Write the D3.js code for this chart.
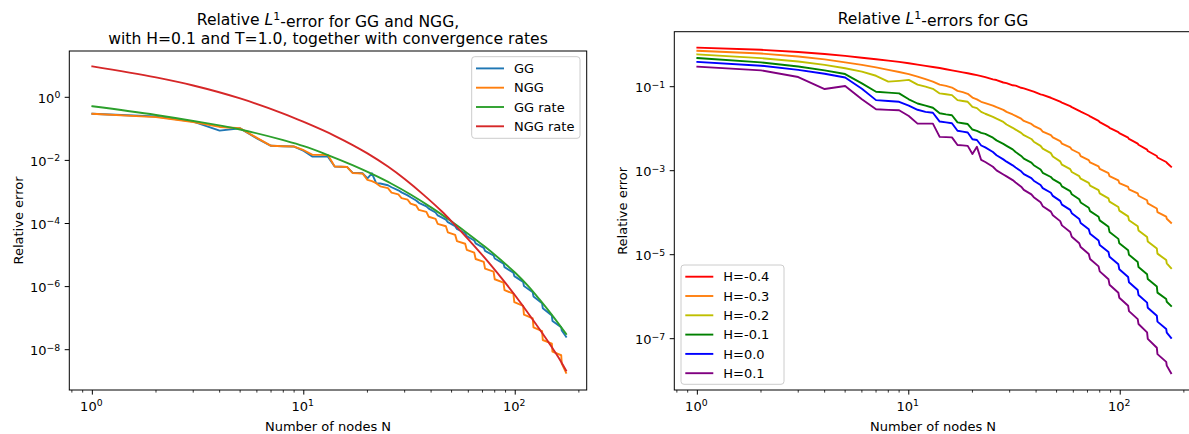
<!DOCTYPE html>
<html>
<head>
<meta charset="utf-8">
<script src="https://cdn.jsdelivr.net/npm/d3@7"></script>
<style>
  body { margin: 0; background: #fff; }
  svg text { font-family: "DejaVu Sans", sans-serif; fill: #000; }
</style>
</head>
<body>
<svg id="chart" width="1189" height="434"></svg>
<script>
// node grid: every N up to 22, then blocks of N (error slides down inside a block, drops between blocks)
const earlyN = [1, 2, 3, 4, 5, 6, 7, 8, 9, 10, 11, 12, 13, 14, 15, 16, 17, 18, 19, 20, 21, 22];
const blockStartN = [23, 26, 29, 32, 35, 39, 43, 48, 53, 59, 65, 72, 80, 89, 99, 110, 122, 135, 150, 166];
const blockEndN = [25, 28, 31, 34, 38, 42, 47, 52, 58, 64, 71, 79, 88, 98, 109, 121, 134, 149, 165, 174];

// ---- left panel: H=0.1, T=1.0 ----
const leftLabels = ["GG", "NGG", "GG rate", "NGG rate"];
const ggEarly = [0.30, 0.245, 0.17, 0.088, 0.104, 0.050, 0.029, 0.028, 0.0275, 0.020, 0.0132, 0.0132, 0.0132, 0.0064, 0.0063, 0.0062,
  0.0041, 0.0040, 0.0039, 0.0027, 0.0039, 0.0019];
const ggStart = [1.85e-3, 1.41e-3, 9.72e-4, 6.78e-4, 4.53e-4, 2.96e-4, 1.80e-4, 1.11e-4, 6.73e-5, 3.97e-5, 2.35e-5, 1.36e-5,
  7.76e-6, 4.13e-6, 2.15e-6, 1.04e-6, 4.88e-7, 2.07e-7, 8.17e-8, 4.05e-8];
const ggEnd = [1.63e-3, 1.13e-3, 7.80e-4, 5.36e-4, 3.50e-4, 2.23e-4, 1.33e-4, 8.22e-5, 4.92e-5, 2.89e-5, 1.69e-5, 9.68e-6,
  5.37e-6, 2.78e-6, 1.41e-6, 6.62e-7, 2.96e-7, 1.21e-7, 5.11e-8, 2.57e-8];
const nggEarly = [0.30, 0.235, 0.165, 0.115, 0.104, 0.052, 0.029, 0.028, 0.0275, 0.021, 0.0150, 0.0150, 0.0148, 0.0064, 0.0063, 0.0062,
  0.0040, 0.0039, 0.0038, 0.0024, 0.0022, 0.0019];
const nggStart = [1.51e-3, 9.51e-4, 6.40e-4, 4.26e-4, 2.70e-4, 1.64e-4, 9.72e-5, 5.26e-5, 2.77e-5, 1.46e-5, 7.50e-6, 3.71e-6,
  1.71e-6, 7.67e-7, 3.23e-7, 1.29e-7, 5.13e-8, 2.03e-8, 8.63e-9, 3.61e-9];
const nggEnd = [1.32e-3, 8.36e-4, 5.68e-4, 3.72e-4, 2.33e-4, 1.40e-4, 8.17e-5, 4.36e-5, 2.28e-5, 1.19e-5, 6.10e-6, 2.96e-6,
  1.34e-6, 5.96e-7, 2.46e-7, 9.77e-8, 3.89e-8, 1.56e-8, 6.67e-9, 1.86e-9];
const ggRateN = [1, 2, 3, 5, 8, 10, 13, 17, 21, 26, 32, 40, 50, 60, 72, 85, 100, 115, 130, 150, 174];
const ggRate = [0.519, 0.275, 0.178, 0.0955, 0.0437, 0.0282, 0.0148, 7.08e-3, 3.72e-3, 1.82e-3, 8.32e-4, 3.24e-4, 1.15e-4,
  4.68e-5, 1.82e-5, 7.24e-6, 2.75e-6, 1.05e-6, 3.98e-7, 1.20e-7, 3.16e-8];
const nggRateN = [1, 2, 3, 5, 8, 10, 14, 20, 25, 30, 37, 45, 50, 60, 75, 90, 106, 125, 145, 160, 174];
const nggRate = [9.55, 4.27, 2.37, 0.92, 0.305, 0.165, 0.0603, 0.0167, 6.38e-3, 2.57e-3, 7.94e-4, 2.40e-4, 1.17e-4,
  3.16e-5, 5.75e-6, 1.29e-6, 3.09e-7, 6.61e-8, 1.58e-8, 5.75e-9, 2.19e-9];

// ---- right panel: GG for several H ----
const hLabels = ["H=-0.4", "H=-0.3", "H=-0.2", "H=-0.1", "H=0.0", "H=0.1"];
const hm04Early = [0.851, 0.757, 0.670, 0.603, 0.541, 0.490, 0.452, 0.418, 0.389, 0.361, 0.335, 0.313, 0.295, 0.278, 0.260, 0.245,
  0.232, 0.220, 0.209, 0.198, 0.188, 0.179];
const hm04Start = [0.169, 0.144, 0.122, 0.106, 0.0912, 0.0762, 0.0637, 0.0522, 0.0419, 0.0327, 0.0255, 0.0196, 0.0143, 0.0105,
  7.83e-3, 5.70e-3, 4.15e-3, 2.95e-3, 2.06e-3, 1.54e-3];
const hm04End = [0.149, 0.126, 0.108, 0.0942, 0.0794, 0.0658, 0.0545, 0.0439, 0.0345, 0.0267, 0.0206, 0.0154, 0.0111, 8.28e-3,
  6.11e-3, 4.41e-3, 3.18e-3, 2.24e-3, 1.61e-3, 1.24e-3];
const hm03Early = [0.719, 0.617, 0.525, 0.447, 0.380, 0.331, 0.288, 0.251, 0.224, 0.200, 0.174, 0.151, 0.132, 0.112, 0.105, 0.0955,
  0.0794, 0.0741, 0.0676, 0.0550, 0.0501, 0.0437];
const hm03Start = [0.0407, 0.0325, 0.0252, 0.0201, 0.0153, 0.0117, 8.55e-3, 6.22e-3, 4.41e-3, 3.20e-3, 2.22e-3, 1.57e-3, 1.10e-3,
  7.41e-4, 5.09e-4, 3.61e-4, 2.53e-4, 1.66e-4, 1.03e-4, 7.16e-5];
const hm03End = [0.0355, 0.0281, 0.0218, 0.0173, 0.0130, 9.79e-3, 7.05e-3, 5.08e-3, 3.60e-3, 2.60e-3, 1.79e-3, 1.27e-3, 8.71e-4,
  5.89e-4, 4.10e-4, 2.90e-4, 1.98e-4, 1.26e-4, 8.07e-5, 5.75e-5];
const hm02Early = [0.589, 0.479, 0.398, 0.331, 0.275, 0.229, 0.182, 0.132, 0.138, 0.145, 0.112, 0.100, 0.0891, 0.0692, 0.0661, 0.0631,
  0.0479, 0.0457, 0.0437, 0.0331, 0.0309, 0.0251];
const hm02Start = [0.0227, 0.0173, 0.0126, 9.53e-3, 7.00e-3, 4.90e-3, 3.34e-3, 2.17e-3, 1.39e-3, 9.33e-4, 6.46e-4, 4.41e-4, 2.88e-4,
  1.83e-4, 1.12e-4, 6.64e-5, 3.78e-5, 2.06e-5, 1.06e-5, 6.25e-6];
const hm02End = [0.0192, 0.0145, 0.0105, 7.96e-3, 5.69e-3, 3.89e-3, 2.61e-3, 1.67e-3, 1.09e-3, 7.41e-4, 5.13e-4, 3.44e-4, 2.19e-4,
  1.37e-4, 8.17e-5, 4.76e-5, 2.64e-5, 1.40e-5, 7.50e-6, 4.79e-6];
const hm01Early = [0.482, 0.380, 0.302, 0.245, 0.200, 0.120, 0.0759, 0.0724, 0.0692, 0.0501, 0.0398, 0.0355, 0.0316, 0.0234, 0.0219,
  0.0209, 0.0141, 0.0135, 0.0129, 9.55e-3, 8.91e-3, 7.94e-3];
const hm01Start = [7.50e-3, 5.27e-3, 3.91e-3, 2.80e-3, 1.94e-3, 1.35e-3, 8.91e-4, 6.31e-4, 4.23e-4, 2.75e-4, 1.75e-4, 1.09e-4, 6.56e-5,
  3.49e-5, 1.87e-5, 9.91e-6, 5.09e-6, 2.63e-6, 1.25e-6, 7.59e-7];
const hm01End = [6.10e-3, 4.35e-3, 3.22e-3, 2.25e-3, 1.56e-3, 1.07e-3, 7.08e-4, 5.01e-4, 3.27e-4, 2.09e-4, 1.31e-4, 8.02e-5, 4.60e-5,
  2.38e-5, 1.28e-5, 6.67e-6, 3.41e-6, 1.74e-6, 8.77e-7, 6.03e-7];
const h00Early = [0.389, 0.316, 0.251, 0.204, 0.166, 0.0891, 0.0479, 0.0457, 0.0437, 0.0355, 0.0282, 0.0251, 0.0240, 0.0148, 0.0141,
  0.0135, 8.91e-3, 8.51e-3, 8.13e-3, 5.62e-3, 5.37e-3, 3.98e-3];
const h00Start = [3.58e-3, 2.34e-3, 1.64e-3, 1.19e-3, 8.28e-4, 5.77e-4, 3.85e-4, 2.51e-4, 1.56e-4, 9.72e-5, 5.69e-5, 3.16e-5, 1.71e-5,
  8.89e-6, 4.49e-6, 2.20e-6, 1.10e-6, 5.43e-7, 2.55e-7, 1.40e-7];
const h00End = [2.79e-3, 1.86e-3, 1.34e-3, 9.66e-4, 6.64e-4, 4.56e-4, 2.98e-4, 1.91e-4, 1.17e-4, 7.11e-5, 4.03e-5, 2.19e-5, 1.16e-5,
  5.90e-6, 2.94e-6, 1.44e-6, 7.21e-7, 3.51e-7, 1.71e-7, 1.05e-7];
const h01Early = [0.30, 0.245, 0.17, 0.088, 0.104, 0.050, 0.029, 0.028, 0.0275, 0.020, 0.0132, 0.0132, 0.0132, 0.0064, 0.0063, 0.0062,
  0.0041, 0.0040, 0.0039, 0.0025, 0.0037, 0.0018];
const h01Start = [1.61e-3, 1.02e-3, 7.31e-4, 5.25e-4, 3.50e-4, 2.34e-4, 1.43e-4, 8.73e-5, 4.99e-5, 2.68e-5, 1.52e-5, 7.93e-6, 4.01e-6,
  1.93e-6, 9.44e-7, 4.52e-7, 2.24e-7, 9.93e-8, 4.29e-8, 2.28e-8];
const h01End = [1.24e-3, 8.13e-4, 5.97e-4, 4.17e-4, 2.73e-4, 1.78e-4, 1.06e-4, 6.30e-5, 3.48e-5, 1.87e-5, 1.04e-5, 5.26e-6, 2.61e-6,
  1.24e-6, 6.10e-7, 2.92e-7, 1.41e-7, 6.07e-8, 2.81e-8, 1.51e-8];

function blocks(early, starts, ends) {
  const pts = earlyN.map((n, i) => [n, early[i]]);
  starts.forEach((v, k) => {
    pts.push([blockStartN[k], v]);
    pts.push([blockEndN[k], ends[k]]);
  });
  return pts;
}

function pairs(ns, vs) {
  return ns.map((n, i) => [n, vs[i]]);
}

const svg = d3.select("#chart");

function sup(textSel, base, exp) {
  textSel.text(base);
  textSel.append("tspan").attr("dy", "-0.5em").attr("font-size", "9.3px").text(exp);
}

function drawPanel(cfg) {
  const g = svg.append("g");
  const x = d3.scaleLog().domain(cfg.xDomain).range([cfg.left, cfg.right]);
  const y = d3.scaleLog().domain(cfg.yDomain).range([cfg.bottom, cfg.top]);

  const clipId = "clip-" + cfg.id;
  g.append("clipPath").attr("id", clipId)
    .append("rect")
      .attr("x", cfg.left).attr("y", cfg.top)
      .attr("width", cfg.right - cfg.left).attr("height", cfg.bottom - cfg.top);

  const plot = g.append("g").attr("clip-path", "url(#" + clipId + ")");
  cfg.series.forEach((s) => {
    const line = d3.line()
      .x((d) => x(d[0]))
      .y((d) => y(d[1]))
      .curve(s.smooth ? d3.curveMonotoneX : d3.curveLinear);
    plot.append("path")
      .attr("d", line(s.pts))
      .attr("fill", "none")
      .attr("stroke", s.color)
      .attr("stroke-width", 1.9)
      .attr("stroke-linejoin", "round")
      .attr("stroke-linecap", "square");
  });

  // x ticks
  const xMinor = [0.8, 0.9, 2, 3, 4, 5, 6, 7, 8, 9, 20, 30, 40, 50, 60, 70, 80, 90, 200];
  g.selectAll(".xminor").data(xMinor).enter().append("line")
    .attr("x1", (d) => x(d)).attr("x2", (d) => x(d))
    .attr("y1", cfg.bottom).attr("y2", cfg.bottom + 2.6)
    .attr("stroke", "#000").attr("stroke-width", 0.8);
  const xMajor = [1, 10, 100];
  g.selectAll(".xmajor").data(xMajor).enter().append("line")
    .attr("x1", (d) => x(d)).attr("x2", (d) => x(d))
    .attr("y1", cfg.bottom).attr("y2", cfg.bottom + 4.6)
    .attr("stroke", "#000").attr("stroke-width", 1);
  g.selectAll(".xlab").data(xMajor).enter().append("text")
    .attr("x", (d) => x(d) - 1).attr("y", cfg.bottom + 21)
    .attr("text-anchor", "middle").attr("font-size", "13px")
    .each(function(d) { sup(d3.select(this), "10", String(Math.round(Math.log10(d)))); });

  // y ticks
  g.selectAll(".ymajor").data(cfg.yTicks).enter().append("line")
    .attr("x1", cfg.left - 4.6).attr("x2", cfg.left)
    .attr("y1", (d) => y(d)).attr("y2", (d) => y(d))
    .attr("stroke", "#000").attr("stroke-width", 1);
  g.selectAll(".ylab").data(cfg.yTicks).enter().append("text")
    .attr("x", cfg.left - 9).attr("y", (d) => y(d) + 5.5)
    .attr("text-anchor", "end").attr("font-size", "13px")
    .each(function(d) {
      const e = Math.round(Math.log10(d));
      sup(d3.select(this), "10", e < 0 ? "\u2212" + (-e) : String(e));
    });

  // frame
  g.append("rect")
    .attr("x", cfg.left).attr("y", cfg.top)
    .attr("width", cfg.right - cfg.left).attr("height", cfg.bottom - cfg.top)
    .attr("fill", "none").attr("stroke", "#000").attr("stroke-width", 1);

  // axis labels
  g.append("text")
    .attr("x", (cfg.left + cfg.right) / 2).attr("y", 431)
    .attr("text-anchor", "middle").attr("font-size", "13px")
    .text("Number of nodes N");
  g.append("text")
    .attr("transform", "translate(" + cfg.yLabelX + "," + (cfg.top + cfg.bottom) / 2 + ") rotate(-90)")
    .attr("text-anchor", "middle").attr("font-size", "13px")
    .text("Relative error");

  // title
  cfg.title.forEach((line) => {
    const t = g.append("text")
      .attr("x", (cfg.left + cfg.right) / 2).attr("y", line.y)
      .attr("text-anchor", "middle").attr("font-size", "15.6px");
    if (line.math) {
      t.append("tspan").text(line.pre);
      t.append("tspan").attr("font-style", "italic").text("L");
      t.append("tspan").attr("dy", "-0.45em").attr("font-size", "11px").text("1");
      t.append("tspan").attr("dy", "0.45em").text(line.post);
    } else {
      t.text(line.text);
    }
  });

  // legend
  const lg = cfg.legend;
  g.append("rect")
    .attr("x", lg.x).attr("y", lg.y).attr("width", lg.w).attr("height", lg.h)
    .attr("rx", 3).attr("fill", "#fff").attr("fill-opacity", 0.8)
    .attr("stroke", "#cccccc").attr("stroke-width", 1);
  cfg.series.forEach((s, i) => {
    const yy = lg.y + 11.7 + i * 19.3;
    g.append("line")
      .attr("x1", lg.x + 4.3).attr("x2", lg.x + 32.3)
      .attr("y1", yy).attr("y2", yy)
      .attr("stroke", s.color).attr("stroke-width", 1.9);
    g.append("text")
      .attr("x", lg.x + 42.3).attr("y", yy + 4.6)
      .attr("font-size", "13px")
      .text(s.label);
  });
}

drawPanel({
  id: "left",
  left: 69.3, right: 586.7, top: 51, bottom: 390,
  xDomain: [0.778, 217.8],
  yDomain: [5.28e-10, 29.35],
  yTicks: [1, 1e-2, 1e-4, 1e-6, 1e-8],
  yLabelX: 23,
  title: [
    { math: true, pre: "Relative ", post: "-error for GG and NGG,", y: 25 },
    { text: "with H=0.1 and T=1.0, together with convergence rates", y: 44 }
  ],
  series: [
    { pts: blocks(ggEarly, ggStart, ggEnd), color: "#1f77b4", label: leftLabels[0] },
    { pts: blocks(nggEarly, nggStart, nggEnd), color: "#ff7f0e", label: leftLabels[1] },
    { pts: pairs(ggRateN, ggRate), color: "#2ca02c", label: leftLabels[2], smooth: true },
    { pts: pairs(nggRateN, nggRate), color: "#d62728", label: leftLabels[3], smooth: true }
  ],
  legend: { x: 471.7, y: 56.7, w: 108.3, h: 81.6 }
});

drawPanel({
  id: "right",
  left: 674.3, right: 1191.7, top: 31.7, bottom: 390,
  xDomain: [0.778, 217.8],
  yDomain: [6.0e-9, 2.04],
  yTicks: [1e-1, 1e-3, 1e-5, 1e-7],
  yLabelX: 627,
  title: [
    { math: true, pre: "Relative ", post: "-errors for GG", y: 24 }
  ],
  series: [
    { pts: blocks(hm04Early, hm04Start, hm04End), color: "#ff0000", label: hLabels[0] },
    { pts: blocks(hm03Early, hm03Start, hm03End), color: "#ff7f0e", label: hLabels[1] },
    { pts: blocks(hm02Early, hm02Start, hm02End), color: "#bfbf00", label: hLabels[2] },
    { pts: blocks(hm01Early, hm01Start, hm01End), color: "#008000", label: hLabels[3] },
    { pts: blocks(h00Early, h00Start, h00End), color: "#0000ff", label: hLabels[4] },
    { pts: blocks(h01Early, h01Start, h01End), color: "#800080", label: hLabels[5] }
  ],
  legend: { x: 681, y: 265, w: 103, h: 119.3 }
});
</script>
</body>
</html>
